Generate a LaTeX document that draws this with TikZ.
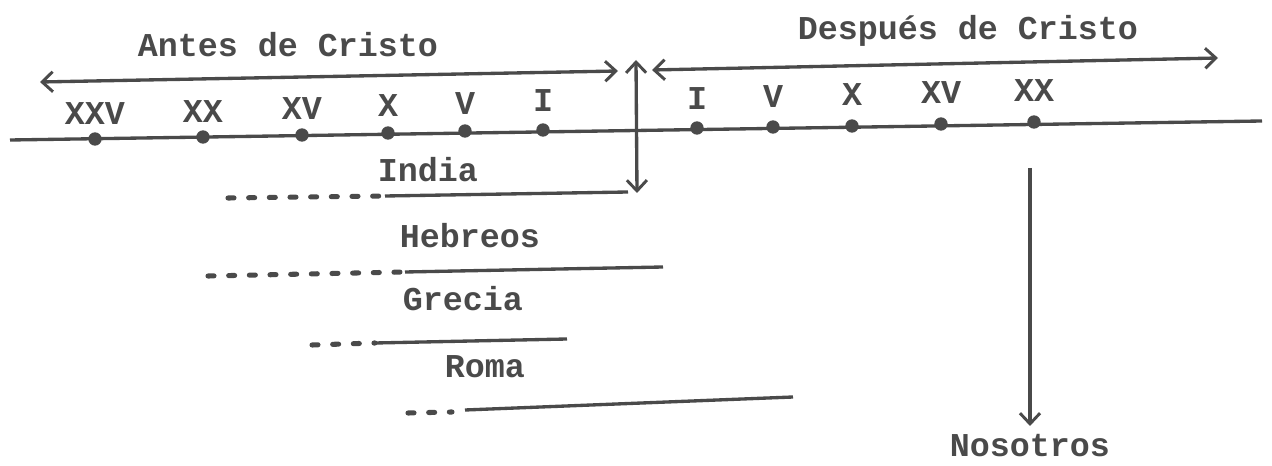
\documentclass[tikz,border=0pt]{standalone}
\usepackage{fontspec}
\setmonofont{Liberation Mono}
\usetikzlibrary{arrows.meta}
\definecolor{ink}{HTML}{4A4A4A}
\begin{document}
\begin{tikzpicture}[x=0.75pt,y=-0.75pt,
  lbl/.style={font=\ttfamily\bfseries\fontsize{25}{30}\selectfont, text=ink, inner sep=0pt, anchor=base},
  tdot/.style={circle, fill=ink, inner sep=0pt, minimum size=10pt},
  ln/.style={draw=ink, line width=2.5pt},
  dsh/.style={draw=ink, line width=3.8pt, line cap=round, dash pattern=on 4.5pt off 11pt},
  tip/.tip={Straight Barb[length=8pt,width=15pt,line width=2.2pt]},
  dbl/.style={ln, tip-tip},
  sgl/.style={ln, -tip}]
\useasboundingbox (0,0) rectangle (1272,466);
% main timeline
\coordinate (tl) at (10,140);
\coordinate (tr) at (1262,121);
\draw[ln] (tl) -- (tr);
% BC dots and labels
\foreach \n/\x/\y/\ly in {XXV/95/139/125, XX/203/137/123, XV/302/135/120, X/388/133/117, V/465/131/115, I/543/130/112}{
  \node[tdot] (bc\n) at (\x,\y) {};
  \node[lbl] (lbc\n) at (\x,\ly) {\n};
}
\foreach \n/\x/\y/\ly in {I/697/128/110, V/773/127/108, X/852/126/106, XV/941/124/104, XX/1034/122/102}{
  \node[tdot] (ad\n) at (\x,\y) {};
  \node[lbl] (lad\n) at (\x,\ly) {\n};
}
% headings
\node[lbl] (antes) at (288,57) {Antes de Cristo};
\node[lbl] (despues) at (968,40) {Después de Cristo};
\coordinate (aL) at (40,82);
\coordinate (aR) at (618,71);
\draw[dbl] (aL) -- (aR);
\coordinate (dL) at (652,70);
\coordinate (dR) at (1218,58);
\draw[dbl] (dL) -- (dR);
% vertical arrow at year zero
\coordinate (vT) at (636,60);
\coordinate (vB) at (637,193);
\draw[dbl] (vT) -- (vB);
% civilisations
\node[lbl] (india) at (428,182) {India};
\coordinate (i0) at (228,198); \coordinate (i1) at (385,196); \coordinate (i2) at (628,192);
\draw[dsh] (i0) -- (i1);
\draw[ln] (i1) -- (i2);
\node[lbl] (hebreos) at (470,248) {Hebreos};
\coordinate (h0) at (208,276); \coordinate (h1) at (405,272); \coordinate (h2) at (663,267);
\draw[dsh] (h0) -- (h1);
\draw[ln] (h1) -- (h2);
\node[lbl] (grecia) at (463,311) {Grecia};
\coordinate (g0) at (312,345); \coordinate (g1) at (375,343); \coordinate (g2) at (567,339);
\draw[dsh] (g0) -- (g1);
\draw[ln] (g1) -- (g2);
\node[lbl] (roma) at (485,378) {Roma};
\coordinate (r0) at (408,413); \coordinate (r1) at (452,412); \coordinate (r2) at (465,410); \coordinate (r3) at (793,397);
\draw[dsh] (r0) -- (r1);
\draw[ln] (r2) -- (r3);
% Nosotros
\coordinate (nT) at (1030,168);
\coordinate (nB) at (1030,426);
\node[lbl] (nosotros) at (1030,457) {Nosotros};
\draw[sgl] (nT) -- (nB);
\end{tikzpicture}
\end{document}
